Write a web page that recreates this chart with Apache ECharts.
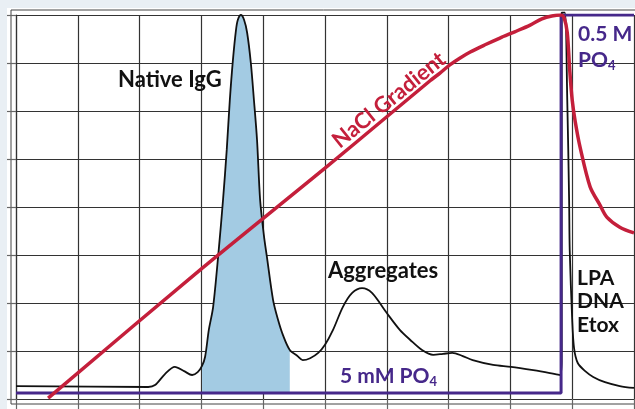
<!DOCTYPE html>
<html><head><meta charset="utf-8">
<script src="https://cdn.jsdelivr.net/npm/echarts/dist/echarts.min.js"></script>
<style>
html,body{margin:0;padding:0;background:#e9eff4;overflow:hidden;}
#bg{position:absolute;left:7px;top:8px;width:628px;height:401px;background:#fff;}
#c{position:absolute;left:0;top:0;width:635px;height:409px;}
</style>
</head><body><div id="bg"></div><div id="c"></div>
<script>
// UV absorbance trace (x = elution position, y = signal)
const uvTrace = [
  [0,0.27],[2.14,0.25],[2.25,0.29],[2.41,0.52],[2.57,0.67],[2.72,0.58],[2.85,0.50],[2.94,0.56],
  [3.01,0.69],[3.06,0.88],[3.12,1.44],[3.19,1.92],[3.28,3.10],[3.35,4.15],[3.41,5.19],[3.46,6.23],
  [3.51,7.06],[3.56,7.69],[3.59,7.90],[3.64,8.0],[3.69,7.90],[3.74,7.63],[3.80,7.0],[3.85,6.23],
  [3.90,5.40],[3.95,4.15],[4.01,3.42],[4.06,2.96],[4.16,2.06],[4.24,1.65],[4.32,1.33],[4.43,1.02],
  [4.55,0.90],[4.64,0.81],[4.76,0.85],[4.89,0.96],[5.0,1.13],[5.13,1.44],[5.29,1.92],[5.44,2.21],
  [5.60,2.31],[5.76,2.21],[6.0,1.79],[6.21,1.44],[6.38,1.23],[6.57,1.02],[6.75,0.92],[6.91,0.94],
  [7.06,0.96],[7.22,0.90],[7.39,0.81],[7.72,0.71],[8.01,0.67],[8.37,0.60],[8.64,0.54],[8.80,0.50],
  [8.83,0.81],[8.83,8.05],[8.88,8.05],[8.92,6.23],[8.95,4.15],[8.96,3.10],[9.0,1.65],[9.03,1.06],
  [9.09,0.75],[9.21,0.58],[9.34,0.46],[9.53,0.35],[9.77,0.27],[10,0.23]
];
// Native IgG fraction range (shaded)
const igGStart = 3.0, igGEnd = 4.45;
// Phosphate step (5 mM -> 0.5 M)
const phosphate = [[0,0.125],[8.82,0.125],[8.82,8.0],[10,8.0]];
// NaCl gradient
const naclGradient = [
  [0.52,0.02],[2.98,2.69],[5.0,4.81],[6.0,5.88],[6.70,6.63],[6.86,6.79],[7.02,6.96],[7.18,7.10],
  [7.35,7.23],[7.59,7.38],[7.83,7.52],[8.07,7.65],[8.32,7.79],[8.51,7.92],[8.67,7.98],[8.82,8.0],
  [8.87,7.94],[8.92,7.63],[8.96,6.85],[9.0,6.23],[9.05,5.77],[9.13,5.23],[9.29,4.42],[9.45,4.04],
  [9.56,3.79],[9.77,3.58],[10,3.46]
];
const xTicks = [0,10,1];
const yTicks = [0,8,1];

const FONT = 'Lato';
const PURPLE = '#46288a', RED = '#c41f3b', BLUE = '#a3cbe3', GRID = '#333';
const igGPeak = uvTrace.filter(p => p[0] >= igGStart && p[0] <= igGEnd);

const chart = echarts.init(document.getElementById('c'), null, {renderer:'canvas'});
const axisCommon = {
  type:'value', axisLabel:{show:false},
  axisLine:{show:true, lineStyle:{color:GRID, width:1.2}},
  splitLine:{show:true, lineStyle:{color:GRID, width:1.2}},
  axisTick:{show:true, inside:false, lineStyle:{color:'#666', width:1.2}}
};
chart.setOption({
  animation:false,
  backgroundColor:'transparent',
  grid:{left:16, right:1, top:15, bottom:10},
  xAxis: Object.assign({}, axisCommon, {min:xTicks[0], max:xTicks[1], interval:xTicks[2], axisTick:Object.assign({}, axisCommon.axisTick, {length:10})}),
  yAxis: Object.assign({}, axisCommon, {min:yTicks[0], max:yTicks[1], interval:yTicks[2], axisTick:Object.assign({}, axisCommon.axisTick, {length:9})}),
  series:[
    {type:'line', data:igGPeak, showSymbol:false, smooth:0.3, lineStyle:{width:0},
     areaStyle:{color:BLUE, opacity:1, origin:phosphate[0][1]}, z:2},
    {type:'line', data:uvTrace, showSymbol:false, smooth:0.3, clip:false,
     lineStyle:{color:'#111', width:1.8}, z:3},
    {type:'line', data:phosphate, showSymbol:false, lineStyle:{color:PURPLE, width:3}, z:4},
    {type:'line', data:naclGradient, showSymbol:false, smooth:0.3, lineStyle:{color:RED, width:3.5}, z:5}
  ],
  graphic:[
    {type:'rect', shape:{x:11, y:10, width:640, height:394}, style:{fill:'none', stroke:'#444', lineWidth:1}, z:-1, silent:true},
    {type:'text', x:118, y:80, style:{text:'Native IgG', font:'bold 22px '+FONT, fill:'#111', textAlign:'left', textVerticalAlign:'middle'}, z:100},
    {type:'text', x:328, y:271, style:{text:'Aggregates', font:'bold 22px '+FONT, fill:'#111', textAlign:'left', textVerticalAlign:'middle'}, z:100},
    {type:'text', x:389, y:100, rotation:39*Math.PI/180, style:{text:'NaCl Gradient', font:'bold 22px '+FONT, fill:RED, textAlign:'center', textVerticalAlign:'middle'}, z:100},
    {type:'text', x:340, y:377, style:{text:'{m|5 mM PO}{s|4}', textAlign:'left', textVerticalAlign:'middle',
      rich:{m:{font:'bold 21px '+FONT, fill:PURPLE, color:PURPLE, lineHeight:22, verticalAlign:'top'},
            s:{font:'bold 13px '+FONT, fill:PURPLE, color:PURPLE, lineHeight:13, padding:[12,0,0,0], verticalAlign:'bottom'}}}, z:100},
    {type:'text', x:578, y:34, style:{text:'0.5 M', font:'bold 21px '+FONT, fill:PURPLE, textAlign:'left', textVerticalAlign:'middle'}, z:100},
    {type:'text', x:578, y:61, style:{text:'{m|PO}{s|4}', textAlign:'left', textVerticalAlign:'middle',
      rich:{m:{font:'bold 21px '+FONT, fill:PURPLE, color:PURPLE, lineHeight:22, verticalAlign:'top'},
            s:{font:'bold 13px '+FONT, fill:PURPLE, color:PURPLE, lineHeight:13, padding:[12,0,0,0], verticalAlign:'bottom'}}}, z:100},
    {type:'text', x:577, y:278, style:{text:'LPA', font:'bold 21px '+FONT, fill:'#111', textAlign:'left', textVerticalAlign:'middle'}, z:100},
    {type:'text', x:577, y:301, style:{text:'DNA', font:'bold 21px '+FONT, fill:'#111', textAlign:'left', textVerticalAlign:'middle'}, z:100},
    {type:'text', x:577, y:325, style:{text:'Etox', font:'bold 21px '+FONT, fill:'#111', textAlign:'left', textVerticalAlign:'middle'}, z:100}
  ]
});
</script>
</body></html>
